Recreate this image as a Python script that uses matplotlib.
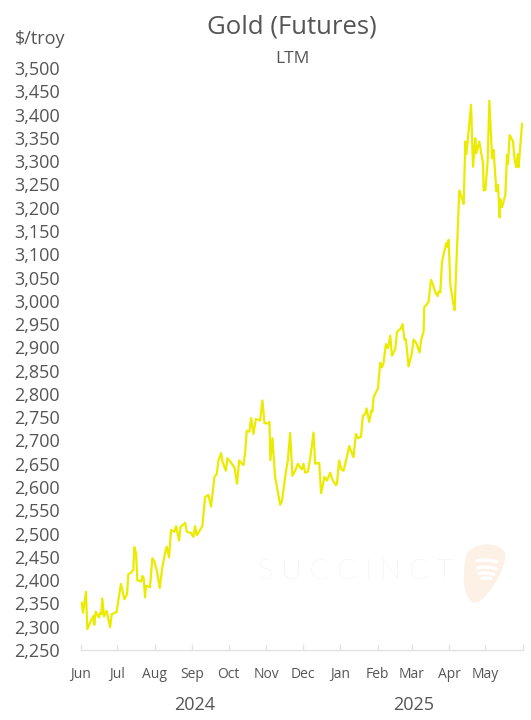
import matplotlib
matplotlib.use("Agg")
import matplotlib.pyplot as plt
import matplotlib.dates as mdates
import matplotlib.patches as mpatches
from matplotlib.path import Path
from matplotlib.ticker import FuncFormatter, FixedLocator
import pandas as pd
import numpy as np

plt.rcParams['font.family'] = ['Open Sans', 'DejaVu Sans']

# ---- data ----
start_date = "2024-06-01"
day_offsets = [0.6, 1.7, 4.1, 5.2, 7.4, 10.2, 11.0, 12.1, 14.9, 15.7, 16.8, 17.6, 19.0, 21.2, 24.0,
               25.4, 27.3, 29.5, 30.8, 33.0, 35.8, 38.0, 39.1, 41.3, 43.2, 44.0, 45.5, 46.5, 49.6,
               50.7, 51.8, 52.9, 53.7, 57.0, 58.9, 60.6, 62.8, 65.0, 67.2, 69.4, 70.8, 72.7, 74.4,
               77.1, 78.5, 81.0, 82.1, 86.0, 87.4, 90.9, 92.8, 94.2, 95.6, 97.5, 100.2, 102.5,
               105.2, 107.4, 110.2, 112.1, 113.5, 115.7, 116.8, 119.6, 120.9, 124.0, 126.7, 128.9,
               130.6, 134.1, 135.5, 136.9, 139.1, 140.5, 142.4, 144.4, 147.9, 149.8, 151.5, 154.8,
               155.6, 156.4, 158.1, 160.3, 164.5, 165.9, 169.2, 170.8, 172.7, 174.6, 176.9, 179.1,
               181.0, 182.4, 183.7, 185.1, 187.4, 189.3, 192.0, 193.4, 196.7, 198.3, 201.1, 203.1,
               205.8, 207.7, 210.5, 211.3, 213.2, 214.9, 216.8, 219.6, 221.5, 225.0, 227.0, 228.7,
               231.2, 232.8, 234.7, 235.8, 238.0, 239.7, 240.7, 241.6, 245.2, 247.1, 248.5, 249.8,
               251.8, 253.5, 255.4, 256.8, 259.5, 260.9, 262.2, 263.9, 265.5, 267.2, 268.3, 270.5,
               273.3, 274.6, 276.9, 279.6, 281.0, 282.9, 283.5, 285.1, 287.0, 289.0, 290.7, 292.6,
               294.5, 295.3, 296.7, 298.1, 300.0, 301.7, 302.7, 303.6, 305.0, 307.2, 308.5, 310.5,
               312.4, 314.6, 316.0, 317.4, 318.2, 319.3, 322.1, 323.7, 325.6, 326.4, 328.9, 330.3,
               332.0, 332.5, 333.9, 335.8, 337.2, 338.6, 339.4, 340.7, 343.0, 344.4, 345.7, 346.3,
               347.7, 350.4, 351.8, 352.6, 354.0, 356.8, 357.9, 359.5, 360.6, 361.4, 364.2]
prices = [2352, 2330, 2375, 2295, 2308, 2323, 2304, 2332, 2320, 2330, 2327, 2361, 2322, 2334, 2299,
          2327, 2329, 2332, 2356, 2392, 2359, 2370, 2413, 2416, 2422, 2471, 2458, 2400, 2397,
          2409, 2404, 2363, 2388, 2385, 2447, 2440, 2418, 2383, 2428, 2458, 2472, 2449, 2508,
          2504, 2516, 2485, 2514, 2523, 2504, 2501, 2493, 2516, 2497, 2504, 2516, 2579,
          2583, 2558, 2622, 2628, 2657, 2673, 2655, 2635, 2662, 2652, 2642, 2607,
          2657, 2647, 2673, 2721, 2719, 2748, 2714, 2746, 2743, 2786, 2737, 2737,
          2740, 2658, 2705, 2621, 2562, 2569, 2633, 2657, 2716, 2624, 2635, 2650,
          2642, 2638, 2650, 2631, 2633, 2662, 2717, 2650, 2652, 2587, 2622, 2614,
          2631, 2615, 2604, 2607, 2657, 2638, 2635, 2665, 2688, 2664, 2714, 2705,
          2708, 2753, 2757, 2769, 2740, 2764, 2762, 2793, 2812, 2867, 2857, 2866,
          2907, 2898, 2925, 2882, 2896, 2932, 2937, 2939, 2950, 2916, 2917, 2859,
          2889, 2917, 2909, 2889, 2917, 2934, 2987, 2991, 2998, 3045, 3034, 3018,
          3010, 3020, 3018, 3084, 3106, 3124, 3116, 3131, 3034, 2998, 2980, 3113,
          3237, 3220, 3208, 3342, 3315, 3342, 3421, 3288, 3349, 3317, 3342, 3320,
          3295, 3237, 3238, 3299, 3430, 3356, 3306, 3324, 3235, 3249, 3179, 3218,
          3201, 3227, 3313, 3294, 3356, 3342, 3306, 3287, 3315, 3287, 3380]
month_labels = ["Jun", "Jul", "Aug", "Sep", "Oct", "Nov", "Dec", "Jan", "Feb", "Mar", "Apr", "May"]
year_labels = ["2024", "2025"]
y_ticks = list(range(2250, 3501, 50))

title = "Gold (Futures)"
subtitle = "LTM"
unit_label = "$/troy"

# ---- build ----
dates = pd.Timestamp(start_date) + pd.to_timedelta(day_offsets, unit="D")
month_starts = pd.date_range("2024-06-01", "2025-06-01", freq="MS")

W, H = 531, 720
fig = plt.figure(figsize=(W / 100, H / 100), dpi=100)
ax = fig.add_axes([81 / W, (H - 650) / H, 442 / W, 582 / H])
ax.patch.set_alpha(0)
ax.set_zorder(2)

text_color = "#555555"
ax.plot(dates, prices, color="#ebeb00", lw=1.6, solid_joinstyle="round", zorder=3)

ax.set_xlim(month_starts[0], month_starts[-1])
ax.set_ylim(y_ticks[0], y_ticks[-1])

for s in ["top", "right", "left"]:
    ax.spines[s].set_visible(False)
ax.spines["bottom"].set_color("#e3e3e3")
ax.spines["bottom"].set_linewidth(1.0)

ax.xaxis.set_major_locator(FixedLocator(mdates.date2num(month_starts)))
ax.set_xticklabels(month_labels + [""])
ax.tick_params(axis="x", direction="in", length=4, color="#e3e3e3", width=1.0,
               labelsize=10, labelcolor=text_color, pad=12)

ax.set_yticks(y_ticks)
ax.yaxis.set_major_formatter(FuncFormatter(lambda v, p: f"{int(v):,}"))
ax.tick_params(axis="y", length=0, labelsize=13, labelcolor=text_color, pad=48)
for lab in ax.get_yticklabels():
    lab.set_horizontalalignment("left")

# titles
fig.text(292 / W, 1 - 27 / H, title, ha="center", va="center", fontsize=18.5, color=text_color)
fig.text(292 / W, 1 - 59 / H, subtitle, ha="center", va="center", fontsize=12.5, color=text_color)
fig.text(15 / W, 1 - 39 / H, unit_label, ha="left", va="center", fontsize=13, color=text_color)

# years
fig.text(195 / W, 1 - 705 / H, year_labels[0], ha="center", va="center", fontsize=13, color=text_color)
fig.text(414 / W, 1 - 705 / H, year_labels[1], ha="center", va="center", fontsize=13, color=text_color)

# watermark
fig.text(355 / W, 1 - 571.5 / H, "S U C C I N C T", ha="center", va="center", fontsize=20.5,
         color="#e5e5e5", fontweight="light", family=["Lato", "DejaVu Sans"], zorder=1)


def fp(x, y):
    return (x / W, 1 - y / H)


verts = [fp(468, 552), fp(478, 541), fp(500, 542), fp(505, 553),
         fp(508, 566), fp(488, 598), fp(478, 602),
         fp(468, 606), fp(463, 590), fp(464, 574),
         fp(464, 562), fp(466, 556), fp(468, 552)]
codes = [Path.MOVETO] + [Path.CURVE4] * 12
pick = mpatches.PathPatch(Path(verts, codes), transform=fig.transFigure,
                          facecolor="#fdf0e5", edgecolor="none", zorder=1)
fig.patches.append(pick)
for r, half in [(40, 19), (33, 22), (27, 21), (22, 16)]:
    cx, cy = 485 / W, 1 - 600 / H
    arc = mpatches.Arc((cx, cy), 2 * r / W, 2 * r / H, theta1=86 - half, theta2=86 + half,
                       transform=fig.transFigure, color="white", lw=2.4, zorder=1.5,
                       capstyle="round")
    fig.patches.append(arc)

fig.savefig("out.png", dpi=100, facecolor="white")
